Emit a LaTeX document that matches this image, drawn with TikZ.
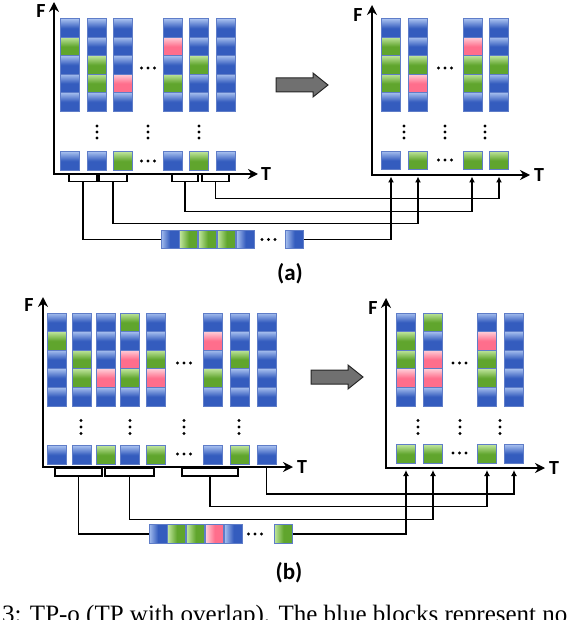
\documentclass[tikz,border=0pt]{standalone}
\usepackage{fontspec}
\setmainfont{Liberation Serif}
\newfontfamily\labelfont{Carlito}
\usetikzlibrary{arrows.meta, positioning, calc}

\definecolor{TileB}{RGB}{52, 92, 190}
\definecolor{TileBHi}{RGB}{165, 190, 238}
\definecolor{TileG}{RGB}{96, 165, 45}
\definecolor{TileGHi}{RGB}{190, 228, 155}
\definecolor{TileR}{RGB}{255, 110, 140}
\definecolor{TileRHi}{RGB}{255, 205, 215}
\definecolor{TileEdge}{RGB}{95, 125, 200}
\definecolor{ArrowGray}{RGB}{112, 112, 112}

\begin{document}
\begin{tikzpicture}[x=1pt, y=-1pt]
        \tikzstyle{axis} = [{Stealth[length=10pt, width=10pt]}-{Stealth[length=10pt, width=10pt]}, line width=2.4pt]
        \tikzstyle{link} = [line width=1.2pt]
        \tikzstyle{arrow} = [link, -{Latex[length=6pt, width=6pt]}]
        \tikzstyle{bracket} = [rectangle, draw, line width=1.1pt, fill=white, minimum height=7pt, inner sep=0pt]
        \tikzstyle{bigarrow} = [fill=ArrowGray, draw=black!85, line width=1pt, line join=miter]
        \tikzstyle{lbl} = [inner sep=0pt, font=\labelfont\bfseries\fontsize{20pt}{20pt}\selectfont]
        \tikzstyle{sub} = [inner sep=0pt, font=\labelfont\bfseries\fontsize{23pt}{23pt}\selectfont]
        \tikzset{
          tile/.style={rectangle, draw=TileEdge, line width=0.9pt, minimum width=19pt, minimum height=18.5pt, inner sep=0pt,
                       top color=Tile#1Hi, bottom color=Tile#1, middle color=Tile#1},
          seqtile/.style={rectangle, draw=TileEdge, line width=0.9pt, minimum width=18pt, minimum height=18.5pt, inner sep=0pt,
                       left color=Tile#1Hi, right color=Tile#1, middle color=Tile#1}
        }

        \clip (0,0) rectangle (586,620);

        %%%%%%%%%%%% (a) %%%%%%%%%%%%
        % Tiles before
        \foreach \x/\cl [count=\i] in {69.5/{B,G,B,B,B}, 96.5/{B,B,G,G,B}, 122.5/{B,B,B,R,B},
                                      172.5/{B,R,B,G,B}, 198.5/{B,B,G,B,B}, 225.5/{B,B,B,B,B}}
          \foreach \c [count=\j] in \cl
            \node[tile=\c] (aL-\i-\j) at (\x, 9.8+18.4*\j) {};
        \foreach \x/\c [count=\i] in {69.5/B, 96.5/B, 122.5/G, 172.5/B, 198.5/G, 225.5/B}
          \node[tile=\c] (aLb-\i) at (\x, 161) {};

        % Tiles after
        \foreach \x/\cl [count=\i] in {390.5/{B,G,G,G,B}, 417.5/{B,B,G,R,B}, 472.5/{B,R,G,G,B}, 498.5/{B,B,G,B,B}}
          \foreach \c [count=\j] in \cl
            \node[tile=\c] (aR-\i-\j) at (\x, 9.8+18.4*\j) {};
        \foreach \x/\c [count=\i] in {390.5/B, 417.5/G, 472.5/G, 498.5/G}
          \node[tile=\c] (aRb-\i) at (\x, 160.5) {};

        % Dots
        \foreach \x/\y in {148/68, 148/161, 445/68, 445/160}
          \foreach \d in {-6.5, 0, 6.5} \fill (\x+\d, \y) circle (1.7pt);
        \foreach \x/\y in {97/132, 148/132, 199/132, 404/132, 445/132, 485/132}
          \foreach \d in {-6, 0, 6} \fill (\x, \y+\d) circle (1.7pt);

        % Brackets
        \node[bracket, minimum width=28pt] (brA1) at (83, 178) {};
        \node[bracket, minimum width=28pt] (brA2) at (113, 178) {};
        \node[bracket, minimum width=26pt] (brA3) at (185, 178) {};
        \node[bracket, minimum width=27pt] (brA4) at (215.5, 178) {};

        % Axes
        \draw[axis] (54, 2) -- (54, 174) -- (258, 174);
        \draw[axis] (372, 5) -- (372, 175) -- (530, 175);
        \node[lbl] (fA1) at (41, 11) {F};
        \node[lbl] (tA1) at (266, 174) {T};
        \node[lbl] (fA2) at (358, 15) {F};
        \node[lbl] (tA2) at (539, 175) {T};

        % Sequence
        \node[seqtile=B] (seqA1) at (170, 239.5) {};
        \node[seqtile=G, right=0pt of seqA1] (seqA2) {};
        \node[seqtile=G, right=0pt of seqA2] (seqA3) {};
        \node[seqtile=G, right=0pt of seqA3] (seqA4) {};
        \node[seqtile=B, right=0pt of seqA4] (seqA5) {};
        \node[seqtile=B, right=30pt of seqA5] (seqA6) {};
        \foreach \d in {-6.5, 0, 6.5} \fill (268.5+\d, 239.5) circle (1.7pt);

        % Arrows
        \coordinate (inA1) at (391, 176.5);
        \coordinate (inA2) at (418, 176.5);
        \coordinate (inA3) at (472, 176.5);
        \coordinate (inA4) at (499, 176.5);
        \draw[link] (brA1.south) |- (seqA1.west);
        \draw[arrow] (brA2.south) -- ++(0, 41.5) -| (inA2);
        \draw[arrow] (brA3.south) -- ++(0, 29.5) -| (inA3);
        \draw[arrow] (brA4.south) -- ++(0, 16.5) -| (inA4);
        \draw[arrow] (seqA6.east) -| (inA1);

        \draw[bigarrow] (276, 78) -- (313, 78) -- (313, 73) -- (328, 85) -- (313, 97) -- (313, 92) -- (276, 92) -- cycle;
        \node[sub] (capA) at (290, 274) {(a)};

        %%%%%%%%%%%% (b) %%%%%%%%%%%%
        % Tiles before
        \foreach \x/\cl [count=\i] in {56.5/{B,G,B,B,B}, 81.5/{B,B,G,G,B}, 105.5/{B,B,B,R,B}, 129.5/{G,B,R,G,B},
                                      155.5/{B,B,G,R,B}, 212.5/{B,R,B,G,B}, 239.5/{B,B,G,B,B}, 266.5/{B,B,B,B,B}}
          \foreach \c [count=\j] in \cl
            \node[tile=\c] (bL-\i-\j) at (\x, 303.7+18.6*\j) {};
        \foreach \x/\c [count=\i] in {56.5/B, 81.5/B, 105.5/G, 129.5/B, 155.5/G, 212.5/B, 239.5/G, 266.5/B}
          \node[tile=\c] (bLb-\i) at (\x, 455) {};

        % Tiles after
        \foreach \x/\cl [count=\i] in {405.5/{B,G,G,R,B}, 432.5/{G,B,R,R,B}, 486.5/{B,R,G,G,B}, 513.5/{B,B,B,B,B}}
          \foreach \c [count=\j] in \cl
            \node[tile=\c] (bR-\i-\j) at (\x, 303.7+18.6*\j) {};
        \foreach \x/\c [count=\i] in {405.5/G, 432.5/G, 486.5/G, 513.5/B}
          \node[tile=\c] (bRb-\i) at (\x, 454) {};

        % Dots
        \foreach \x/\y in {184/363, 184/454, 459.5/363, 459.5/453}
          \foreach \d in {-6.5, 0, 6.5} \fill (\x+\d, \y) circle (1.7pt);
        \foreach \x/\y in {81/427, 130/427, 184/427, 239/427, 418/427, 460/427, 500/427}
          \foreach \d in {-6.5, 0, 6.5} \fill (\x, \y+\d) circle (1.7pt);

        % Brackets
        \node[bracket, minimum width=47pt, minimum height=8pt] (brB1) at (78.5, 472) {};
        \node[bracket, minimum width=49pt, minimum height=8pt] (brB2) at (129.5, 472) {};
        \node[bracket, minimum width=56pt, minimum height=8pt] (brB3) at (210, 472) {};
        \coordinate (tapB4) at (266.5, 468);

        % Axes
        \draw[axis] (43, 297) -- (43, 467) -- (293, 467);
        \draw[axis] (386, 298) -- (386, 468) -- (545, 468);
        \node[lbl] (fB1) at (29, 305) {F};
        \node[lbl] (tB1) at (302, 467) {T};
        \node[lbl] (fB2) at (373, 308) {F};
        \node[lbl] (tB2) at (554, 468) {T};

        % Sequence
        \node[seqtile=B] (seqB1) at (158, 534) {};
        \node[seqtile=G, right=0pt of seqB1] (seqB2) {};
        \node[seqtile=G, right=0pt of seqB2] (seqB3) {};
        \node[seqtile=R, right=0pt of seqB3] (seqB4) {};
        \node[seqtile=B, right=0pt of seqB4] (seqB5) {};
        \node[seqtile=G, right=31pt of seqB5] (seqB6) {};
        \foreach \d in {-6.5, 0, 6.5} \fill (255+\d, 534) circle (1.7pt);

        % Arrows
        \coordinate (inB1) at (406, 470);
        \coordinate (inB2) at (433, 470);
        \coordinate (inB3) at (487, 470);
        \coordinate (inB4) at (514, 470);
        \draw[link] (brB1.south) |- (seqB1.west);
        \draw[arrow] (brB2.south) -- ++(0, 43) -| (inB2);
        \draw[arrow] (brB3.south) -- ++(0, 30) -| (inB3);
        \draw[arrow] (tapB4) -- ++(0, 26) -| (inB4);
        \draw[arrow] (seqB6.east) -| (inB1);

        \draw[bigarrow] (311, 370) -- (348, 370) -- (348, 365) -- (363, 377) -- (348, 389) -- (348, 384) -- (311, 384) -- cycle;
        \node[sub] (capB) at (289, 573) {(b)};

        % Caption (cut off at the bottom)
        \node[anchor=base west, inner sep=0pt, font=\fontsize{25pt}{25pt}\selectfont] (caption) at (2, 622) {3: TP-o (TP with overlap). The blue blocks represent no};
    \end{tikzpicture}
\end{document}
